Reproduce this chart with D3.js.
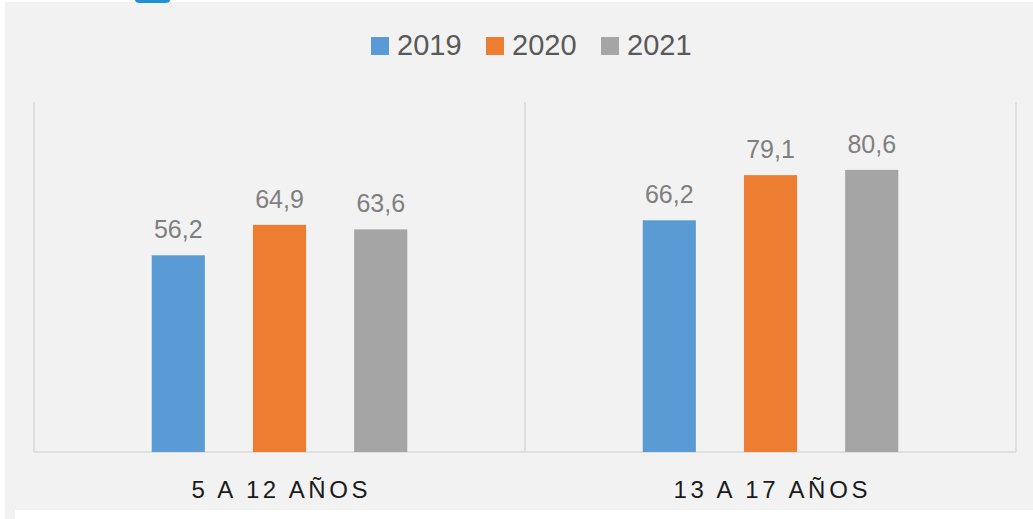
<!DOCTYPE html>
<html><head><meta charset="utf-8">
<script src="https://cdn.jsdelivr.net/npm/d3@7"></script>
<style>html,body{margin:0;padding:0;background:#fff;}svg{display:block;}</style>
</head><body>
<svg id="chart" width="1033" height="519"></svg>
<script>
const categories = ["5 A 12 AÑOS", "13 A 17 AÑOS"];
const series = ["2019", "2020", "2021"];
const values2019 = [56.2, 66.2];
const values2020 = [64.9, 79.1];
const values2021 = [63.6, 80.6];
const colors = ["#5b9bd5", "#ed7d31", "#a5a5a5"];
const yMax = 100;

(function () {
const seriesValues = [values2019, values2020, values2021];
const svg = d3.select("#chart");
const font = "'Liberation Sans', Arial, sans-serif";

// background panel
svg.append("rect").attr("x", 5).attr("y", 2).attr("width", 1028).attr("height", 517).attr("fill", "#f2f2f2");
svg.append("rect").attr("x", 15).attr("y", 510).attr("width", 1018).attr("height", 9).attr("fill", "#ffffff");
svg.append("path").attr("d", "M135,0 H170 V0 Q170,3 165,3 H140 Q135,3 135,0 Z").attr("fill", "#1f8fd6");

const pLeft = 34, pRight = 1016, pTop = 102, pBottom = 452;
const x0 = d3.scaleBand().domain(categories).range([pLeft, pRight]).padding(0);
const x1 = d3.scaleBand().domain(series).range([0, x0.bandwidth()]).paddingInner(0.475).paddingOuter(1.163);
const y = d3.scaleLinear().domain([0, yMax]).range([pBottom, pTop]);

// category separators
const grid = svg.append("g");
const bounds = categories.map(c => x0(c)).concat([x0(categories[categories.length - 1]) + x0.bandwidth()]);
grid.selectAll("line.v").data(bounds).join("line")
  .attr("x1", d => d).attr("x2", d => d).attr("y1", y(yMax)).attr("y2", y(0))
  .attr("stroke", "#d9d9d9").attr("stroke-width", 1.5);
grid.append("line").attr("x1", pLeft).attr("x2", pRight).attr("y1", y(0)).attr("y2", y(0))
  .attr("stroke", "#d9d9d9").attr("stroke-width", 1.5);

// bars
const flat = [];
categories.forEach((c, ci) => series.forEach((s, si) => flat.push({c, s, si, v: seriesValues[si][ci]})));
svg.append("g").selectAll("rect").data(flat).join("rect")
  .attr("x", d => x0(d.c) + x1(d.s)).attr("width", x1.bandwidth())
  .attr("y", d => y(d.v)).attr("height", d => y(0) - y(d.v))
  .attr("fill", d => colors[d.si]);

// value labels
svg.append("g").selectAll("text").data(flat).join("text")
  .attr("x", d => x0(d.c) + x1(d.s) + x1.bandwidth() / 2)
  .attr("y", d => y(d.v) - 17)
  .attr("text-anchor", "middle").attr("font-family", font).attr("font-size", 25)
  .attr("fill", "#7f7f7f")
  .text(d => d.v.toFixed(1).replace(".", ","));

// category labels
const catWidths = [176, 194];
svg.append("g").selectAll("text").data(categories).join("text")
  .attr("x", (d, i) => x0(d) + x0.bandwidth() / 2 - catWidths[i] / 2)
  .attr("y", 498)
  .attr("font-family", font).attr("font-size", 24).attr("fill", "#1a1a1a")
  .attr("textLength", (d, i) => catWidths[i]).attr("lengthAdjust", "spacing")
  .text(d => d);

// legend
const leg = svg.append("g").selectAll("g").data(series).join("g")
  .attr("transform", (d, i) => `translate(${371 + i * 115},0)`);
leg.append("rect").attr("x", 0).attr("y", 37).attr("width", 18).attr("height", 18)
  .attr("fill", (d, i) => colors[i]);
leg.append("text").attr("x", 26).attr("y", 55)
  .attr("font-family", font).attr("font-size", 29).attr("fill", "#595959")
  .text(d => d);
})();
</script>
</body></html>
